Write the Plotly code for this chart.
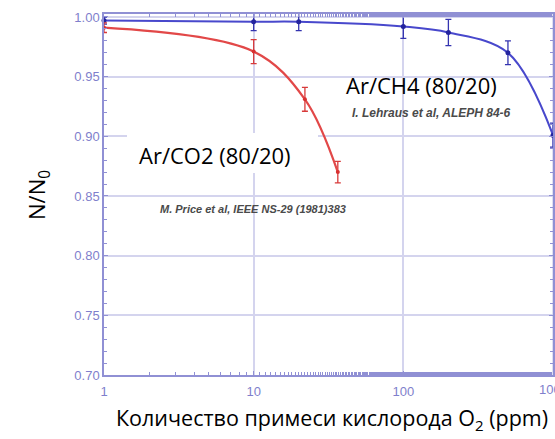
import plotly.graph_objects as go

# Ar/CH4 (80/20) — I. Lehraus et al, ALEPH 84-6
ch4_x = [1, 10, 20, 100, 200, 500, 1000]
ch4_y = [0.997, 0.996, 0.996, 0.992, 0.987, 0.970, 0.901]
ch4_err = [0.003, 0.0075, 0.0075, 0.010, 0.011, 0.010, 0.010]

# Ar/CO2 (80/20) — M. Price et al, IEEE NS-29 (1981)383
co2_x = [1, 10, 22, 36.5]
co2_y = [0.991, 0.971, 0.931, 0.870]
co2_err = [0.004, 0.010, 0.010, 0.009]

x_ticks = [1, 10, 100, 1000]
y_ticks = [0.70, 0.75, 0.80, 0.85, 0.90, 0.95, 1.00]

W, H = 555, 439
L, R, T, B = 104, 2, 14, 64
PW, PH = W - L - R, H - T - B

AXIS = "#9090d4"
TICKTXT = "#7f7fcc"
GRID = "#d4d4ee"
BLUE = "#4848cc"
RED = "#e24848"
TICKFONT = dict(family="Liberation Sans, Arial, sans-serif", size=13, color=TICKTXT)


def px(x):
    return (x - L) / PW


def py(y):
    return (H - B - y) / PH


fig = go.Figure()
fig.add_trace(go.Scatter(
    x=ch4_x, y=ch4_y, mode="lines+markers",
    line=dict(color=BLUE, width=2, shape="spline", smoothing=1.0),
    marker=dict(color="#24249e", size=5),
    error_y=dict(type="data", array=ch4_err, color="#3434b0", thickness=1.3, width=3),
    showlegend=False, cliponaxis=False,
))
fig.add_trace(go.Scatter(
    x=co2_x, y=co2_y, mode="lines+markers",
    line=dict(color=RED, width=2.2, shape="spline", smoothing=1.0),
    marker=dict(color="#d83030", size=4),
    error_y=dict(type="data", array=co2_err, color="#d83a3a", thickness=1.3, width=3),
    showlegend=False,
))

# white label boxes: the CH4 one sits under the curves, the CO2 one on top
boxes = [((333, 67, 527, 101), "between"), ((127, 133, 318, 173), "above")]
for (x0, y0, x1, y1), layer in boxes:
    fig.add_shape(type="rect", xref="paper", yref="paper",
                  x0=px(x0), x1=px(x1), y0=py(y1), y1=py(y0),
                  fillcolor="white", line=dict(width=0), layer=layer)

big = dict(family="Open Sans, Noto Sans, sans-serif", size=22, color="black")
small = dict(family="Liberation Sans, Arial, sans-serif", size=11, color="#4a4a4a")

annotations = [
    dict(text="Ar/CH4 (80/20)", x=px(421), y=py(85), font=big),
    dict(text="Ar/CO2 (80/20)", x=px(215), y=py(155), font=big),
    dict(text="<b><i>I. Lehraus et al, ALEPH 84-6</i></b>",
         x=px(431), y=py(113), font=dict(small, size=12)),
    dict(text="<b><i>M. Price et al, IEEE NS-29 (1981)383</i></b>", x=px(253), y=py(209), font=small),
    dict(text="N/N<sub>0</sub>", x=px(38), y=py(195), textangle=-90, font=big),
    dict(text="Количество примеси кислорода O<sub>2</sub> (ppm)", x=px(332), y=py(419),
         font=dict(big, size=21.5)),
]
for a in annotations:
    fig.add_annotation(xref="paper", yref="paper", showarrow=False,
                       xanchor="center", yanchor="middle", **a)

# last decade label sits at the edge of the page
fig.add_annotation(x=3, xref="x", y=py(389), yref="paper", text="1000",
                   showarrow=False, xanchor="center", yanchor="middle", font=TICKFONT)

fig.update_xaxes(
    type="log", range=[0, 3], tickvals=x_ticks[:-1], ticktext=[str(v) for v in x_ticks[:-1]],
    showline=True, linecolor=AXIS, linewidth=1.5, mirror="ticks",
    ticks="inside", ticklen=4, tickcolor=AXIS,
    minor=dict(ticks="inside", ticklen=3, tickcolor=AXIS, showgrid=False),
    showgrid=True, gridcolor=GRID, gridwidth=1.5,
    tickfont=TICKFONT, ticklabelstandoff=4,
    zeroline=False,
)
fig.add_vline(x=1000, line=dict(color=GRID, width=1.5), layer="below")
fig.update_yaxes(
    range=[0.70, 1.0025], tickvals=y_ticks, ticktext=[f"{v:.2f}" for v in y_ticks],
    showline=True, linecolor=AXIS, linewidth=1.5, mirror="ticks",
    ticks="inside", ticklen=4, tickcolor=AXIS,
    minor=dict(dtick=0.01, ticks="inside", ticklen=3, tickcolor=AXIS, showgrid=False),
    showgrid=True, gridcolor=GRID, gridwidth=1.5,
    tickfont=TICKFONT,
    zeroline=False,
)
fig.update_layout(
    width=W, height=H, margin=dict(l=L, r=R, t=T, b=B, autoexpand=False),
    paper_bgcolor="white", plot_bgcolor="white",
)
fig.write_html("out.html")
